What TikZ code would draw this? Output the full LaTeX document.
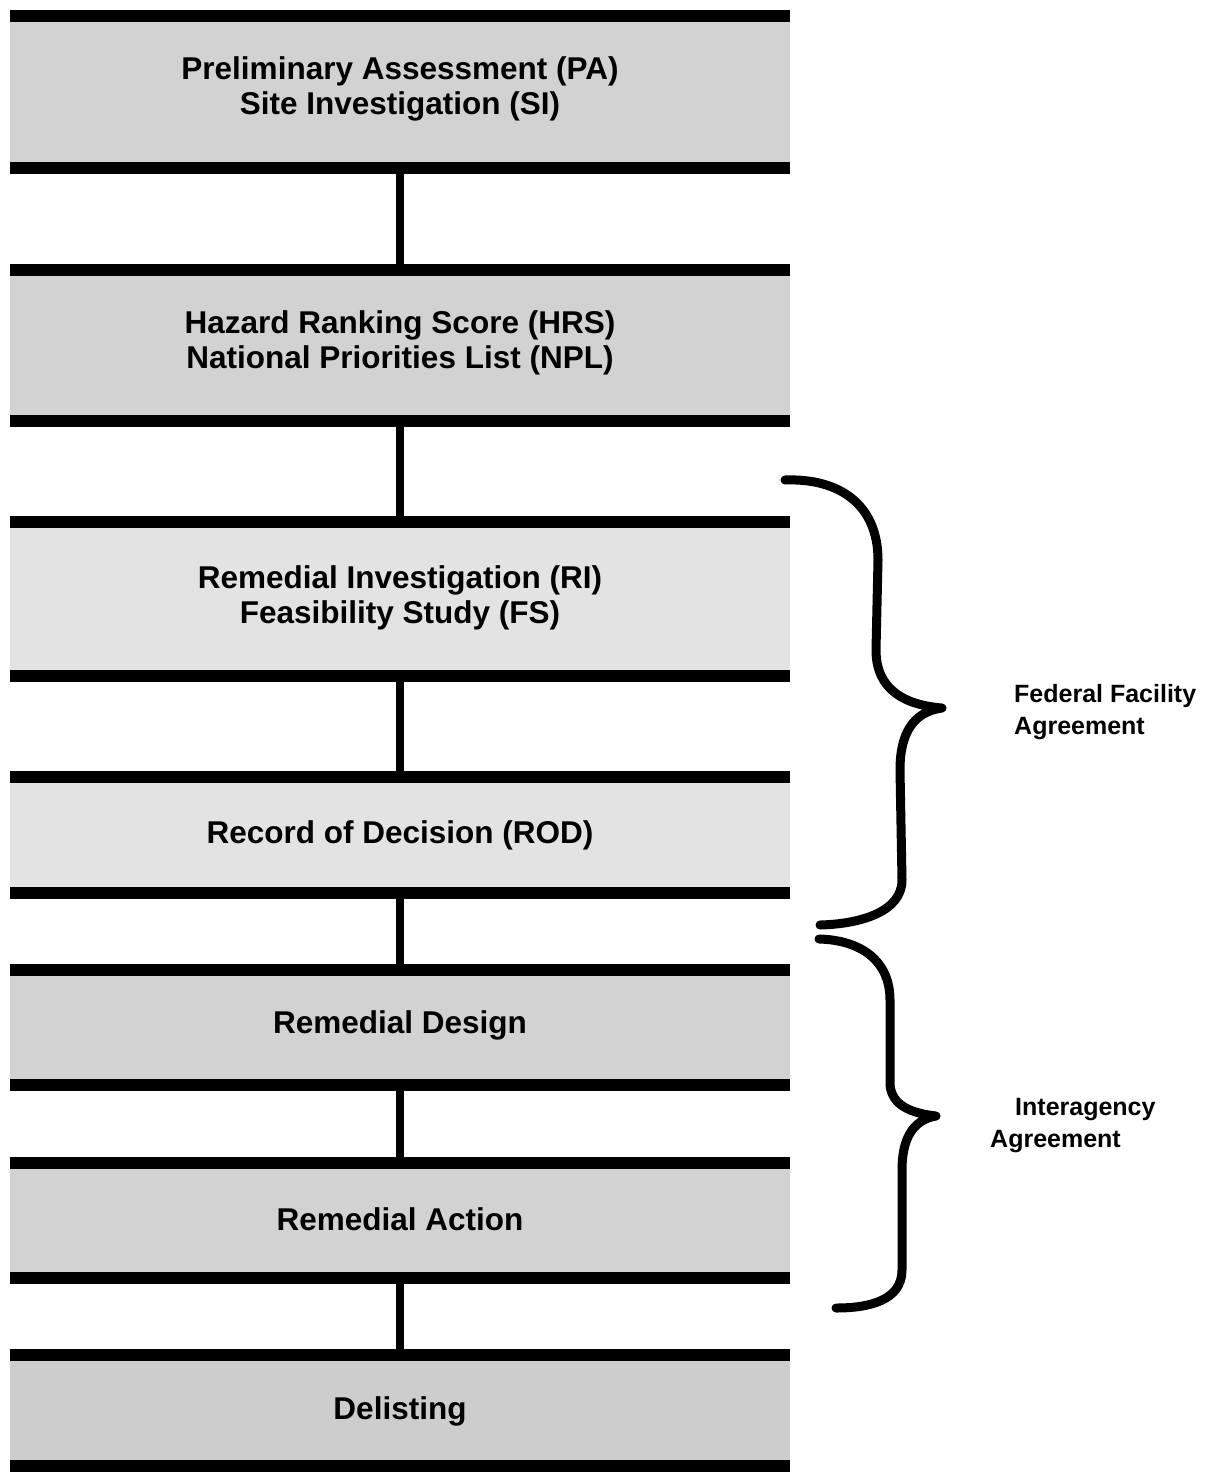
\documentclass[tikz,border=0pt]{standalone}
\usepackage{fontspec}
\setmainfont{Liberation Sans}
\definecolor{bandA}{HTML}{D2D2D2}
\definecolor{bandB}{HTML}{E3E3E3}
\definecolor{bandC}{HTML}{CDCDCD}
\begin{document}
\begin{tikzpicture}[x=1pt,y=-1pt,
  stage/.style={minimum width=780pt, inner sep=0pt, draw=none, anchor=north},
  bar/.style={line width=12pt},
  link/.style={line width=8pt},
  lbl/.style={font=\bfseries\fontsize{31.5}{35}\selectfont, align=center, inner sep=0pt},
  side/.style={font=\bfseries\fontsize{25}{32}\selectfont, align=left, anchor=north west, inner sep=0pt},
  brace/.style={line width=9pt, line cap=round, line join=round}]
\useasboundingbox (0,0) rectangle (1207,1472);
% stage bands
\node[stage, fill=bandA, minimum height=152pt] (b1) at (400,16) {};
\node[stage, fill=bandA, minimum height=151pt] (b2) at (400,270) {};
\node[stage, fill=bandB, minimum height=154pt] (b3) at (400,522) {};
\node[stage, fill=bandB, minimum height=116pt] (b4) at (400,777) {};
\node[stage, fill=bandA, minimum height=115pt] (b5) at (400,970) {};
\node[stage, fill=bandA, minimum height=115pt] (b6) at (400,1163) {};
\node[stage, fill=bandC, minimum height=111pt] (b7) at (400,1355) {};
% bars
\foreach \b in {b1,b2,b3,b4,b5,b6,b7}{
  \draw[bar] (\b.north west) -- (\b.north east);
  \draw[bar] (\b.south west) -- (\b.south east);
}
% connectors
\draw[link] (b1.south) -- (b2.north);
\draw[link] (b2.south) -- (b3.north);
\draw[link] (b3.south) -- (b4.north);
\draw[link] (b4.south) -- (b5.north);
\draw[link] (b5.south) -- (b6.north);
\draw[link] (b6.south) -- (b7.north);
% texts
\node[lbl] (t1) at (400,89) {Preliminary Assessment (PA)\\Site Investigation (SI)};
\node[lbl] (t2) at (400,343) {Hazard Ranking Score (HRS)\\National Priorities List (NPL)};
\node[lbl] (t3) at (400,598) {Remedial Investigation (RI)\\Feasibility Study (FS)};
\node[lbl] (t4) at (400,835) {Record of Decision (ROD)};
\node[lbl] (t5) at (400,1025) {Remedial Design};
\node[lbl] (t6) at (400,1219) {Remedial Action};
\node[lbl] (t7) at (400,1411) {Delisting};
% braces
\draw[brace] (785,480) .. controls (840,478) and (878,505) .. (878,560)
  -- (876,650)
  .. controls (876,690) and (905,705) .. (942,708)
  .. controls (912,712) and (900,735) .. (900,770)
  -- (902,880)
  .. controls (902,912) and (860,924) .. (820,925);
\draw[brace] (819,939) .. controls (860,940) and (890,960) .. (890,1000)
  -- (890,1085)
  .. controls (892,1105) and (910,1113) .. (936,1116)
  .. controls (912,1120) and (902,1140) .. (902,1170)
  -- (902,1270)
  .. controls (902,1300) and (870,1308) .. (836,1308);
% side labels
\node[side] (ffa) at (1014,684) {Federal Facility\\Agreement};
\node[side] (iaa) at (990,1098) {\hspace*{25pt}Interagency\\Agreement};
\end{tikzpicture}
\end{document}
